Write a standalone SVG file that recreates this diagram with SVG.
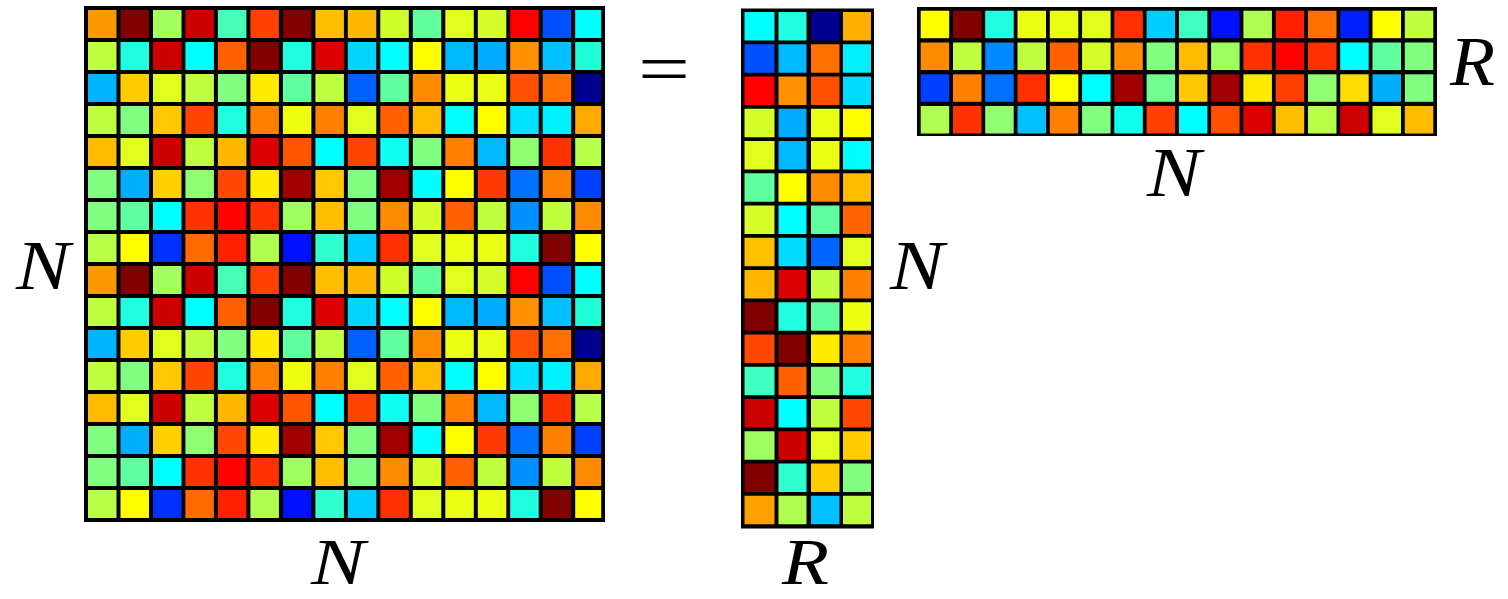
<svg xmlns="http://www.w3.org/2000/svg" xmlns:xlink="http://www.w3.org/1999/xlink" width="1508" height="599" viewBox="0 0 1508 599">
<style>
  .bg { fill: #000000; }
  .lbl { font-family: "Liberation Serif", "DejaVu Serif", "Times New Roman", serif; font-style: italic; font-size: 70px; fill: #000000; }
  .lbl2 { font-size: 66px; }
  .eq { font-family: "Liberation Serif", "DejaVu Serif", "Times New Roman", serif; font-size: 72px; fill: #000000; }
</style>
<rect x="0" y="0" width="1508" height="599" fill="#ffffff"/>
<defs>
  <g id="halfRows">
    <g transform="translate(0,10)">
      <rect x="88" width="28.5" height="28" fill="#FF9900"/><rect x="120.5" width="28.5" height="28" fill="#800000"/><rect x="153" width="28.5" height="28" fill="#A3FF5A"/><rect x="185.4" width="28.5" height="28" fill="#CC0000"/><rect x="217.9" width="28.5" height="28" fill="#48FFB8"/><rect x="250.4" width="28.5" height="28" fill="#FF4000"/><rect x="282.9" width="28.5" height="28" fill="#800000"/><rect x="315.4" width="28.5" height="28" fill="#FFBF00"/>
      <rect x="347.8" width="28.5" height="28" fill="#FFB800"/><rect x="380.3" width="28.5" height="28" fill="#D0FF2E"/><rect x="412.8" width="28.5" height="28" fill="#60FF9C"/><rect x="445.3" width="28.5" height="28" fill="#E0FF1E"/><rect x="477.8" width="28.5" height="28" fill="#D4FF2A"/><rect x="510.2" width="28.5" height="28" fill="#FF0000"/><rect x="542.7" width="28.5" height="28" fill="#0050FF"/><rect x="575.2" width="26" height="28" fill="#00FFFF"/>
    </g>
    <g transform="translate(0,42)">
      <rect x="88" width="28.5" height="28" fill="#BFFF40"/><rect x="120.5" width="28.5" height="28" fill="#20FFE0"/><rect x="153" width="28.5" height="28" fill="#CC0000"/><rect x="185.4" width="28.5" height="28" fill="#00FFFF"/><rect x="217.9" width="28.5" height="28" fill="#FF6000"/><rect x="250.4" width="28.5" height="28" fill="#800000"/><rect x="282.9" width="28.5" height="28" fill="#20FFE0"/><rect x="315.4" width="28.5" height="28" fill="#DD0000"/>
      <rect x="347.8" width="28.5" height="28" fill="#00D4FF"/><rect x="380.3" width="28.5" height="28" fill="#00FFFF"/><rect x="412.8" width="28.5" height="28" fill="#FFFF00"/><rect x="445.3" width="28.5" height="28" fill="#00B8FF"/><rect x="477.8" width="28.5" height="28" fill="#00AAFF"/><rect x="510.2" width="28.5" height="28" fill="#FF9000"/><rect x="542.7" width="28.5" height="28" fill="#00C0FF"/><rect x="575.2" width="26" height="28" fill="#20FFD8"/>
    </g>
    <g transform="translate(0,74)">
      <rect x="88" width="28.5" height="28" fill="#00B4FF"/><rect x="120.5" width="28.5" height="28" fill="#FFCC00"/><rect x="153" width="28.5" height="28" fill="#E0FF1F"/><rect x="185.4" width="28.5" height="28" fill="#C0FF40"/><rect x="217.9" width="28.5" height="28" fill="#80FF80"/><rect x="250.4" width="28.5" height="28" fill="#FFEA00"/><rect x="282.9" width="28.5" height="28" fill="#60FFA0"/><rect x="315.4" width="28.5" height="28" fill="#C0FF40"/>
      <rect x="347.8" width="28.5" height="28" fill="#0060FF"/><rect x="380.3" width="28.5" height="28" fill="#60FFA0"/><rect x="412.8" width="28.5" height="28" fill="#FF8C00"/><rect x="445.3" width="28.5" height="28" fill="#EAFF15"/><rect x="477.8" width="28.5" height="28" fill="#EAFF15"/><rect x="510.2" width="28.5" height="28" fill="#FF5000"/><rect x="542.7" width="28.5" height="28" fill="#FF7000"/><rect x="575.2" width="26" height="28" fill="#000090"/>
    </g>
    <g transform="translate(0,106)">
      <rect x="88" width="28.5" height="28" fill="#C0FF40"/><rect x="120.5" width="28.5" height="28" fill="#80FF80"/><rect x="153" width="28.5" height="28" fill="#FFC800"/><rect x="185.4" width="28.5" height="28" fill="#FF4400"/><rect x="217.9" width="28.5" height="28" fill="#20FFDF"/><rect x="250.4" width="28.5" height="28" fill="#FF8000"/><rect x="282.9" width="28.5" height="28" fill="#F0FF0F"/><rect x="315.4" width="28.5" height="28" fill="#FF8000"/>
      <rect x="347.8" width="28.5" height="28" fill="#E0FF20"/><rect x="380.3" width="28.5" height="28" fill="#FF6000"/><rect x="412.8" width="28.5" height="28" fill="#FFBB00"/><rect x="445.3" width="28.5" height="28" fill="#00FFFF"/><rect x="477.8" width="28.5" height="28" fill="#FFFF00"/><rect x="510.2" width="28.5" height="28" fill="#00E0FF"/><rect x="542.7" width="28.5" height="28" fill="#00F0FF"/><rect x="575.2" width="26" height="28" fill="#FFAA00"/>
    </g>
    <g transform="translate(0,138)">
      <rect x="88" width="28.5" height="28" fill="#FFBB00"/><rect x="120.5" width="28.5" height="28" fill="#E0FF20"/><rect x="153" width="28.5" height="28" fill="#CC0000"/><rect x="185.4" width="28.5" height="28" fill="#C0FF40"/><rect x="217.9" width="28.5" height="28" fill="#FFB800"/><rect x="250.4" width="28.5" height="28" fill="#DD0000"/><rect x="282.9" width="28.5" height="28" fill="#FF5500"/><rect x="315.4" width="28.5" height="28" fill="#00FFFF"/>
      <rect x="347.8" width="28.5" height="28" fill="#FF4400"/><rect x="380.3" width="28.5" height="28" fill="#10FFF0"/><rect x="412.8" width="28.5" height="28" fill="#80FF80"/><rect x="445.3" width="28.5" height="28" fill="#FF8000"/><rect x="477.8" width="28.5" height="28" fill="#00B8FF"/><rect x="510.2" width="28.5" height="28" fill="#90FF6F"/><rect x="542.7" width="28.5" height="28" fill="#FF3300"/><rect x="575.2" width="26" height="28" fill="#B8FF48"/>
    </g>
    <g transform="translate(0,170)">
      <rect x="88" width="28.5" height="28" fill="#80FF80"/><rect x="120.5" width="28.5" height="28" fill="#00B0FF"/><rect x="153" width="28.5" height="28" fill="#FFD000"/><rect x="185.4" width="28.5" height="28" fill="#90FF70"/><rect x="217.9" width="28.5" height="28" fill="#FF4800"/><rect x="250.4" width="28.5" height="28" fill="#FFEA00"/><rect x="282.9" width="28.5" height="28" fill="#A00000"/><rect x="315.4" width="28.5" height="28" fill="#FFC800"/>
      <rect x="347.8" width="28.5" height="28" fill="#80FF80"/><rect x="380.3" width="28.5" height="28" fill="#A00000"/><rect x="412.8" width="28.5" height="28" fill="#00FFFF"/><rect x="445.3" width="28.5" height="28" fill="#FFFF00"/><rect x="477.8" width="28.5" height="28" fill="#FF3800"/><rect x="510.2" width="28.5" height="28" fill="#0070FF"/><rect x="542.7" width="28.5" height="28" fill="#FF8000"/><rect x="575.2" width="26" height="28" fill="#0040FF"/>
    </g>
    <g transform="translate(0,202)">
      <rect x="88" width="28.5" height="28" fill="#80FF80"/><rect x="120.5" width="28.5" height="28" fill="#60FFA0"/><rect x="153" width="28.5" height="28" fill="#00FFFF"/><rect x="185.4" width="28.5" height="28" fill="#FF3300"/><rect x="217.9" width="28.5" height="28" fill="#FF0000"/><rect x="250.4" width="28.5" height="28" fill="#FF3300"/><rect x="282.9" width="28.5" height="28" fill="#A0FF60"/><rect x="315.4" width="28.5" height="28" fill="#FFBF00"/>
      <rect x="347.8" width="28.5" height="28" fill="#80FF80"/><rect x="380.3" width="28.5" height="28" fill="#FF8C00"/><rect x="412.8" width="28.5" height="28" fill="#D4FF2B"/><rect x="445.3" width="28.5" height="28" fill="#FF6000"/><rect x="477.8" width="28.5" height="28" fill="#C0FF40"/><rect x="510.2" width="28.5" height="28" fill="#0090FF"/><rect x="542.7" width="28.5" height="28" fill="#C0FF40"/><rect x="575.2" width="26" height="28" fill="#FF8C00"/>
    </g>
    <g transform="translate(0,234)">
      <rect x="88" width="28.5" height="28" fill="#B8FF48"/><rect x="120.5" width="28.5" height="28" fill="#FFFF00"/><rect x="153" width="28.5" height="28" fill="#0030FF"/><rect x="185.4" width="28.5" height="28" fill="#FF6A00"/><rect x="217.9" width="28.5" height="28" fill="#FF2000"/><rect x="250.4" width="28.5" height="28" fill="#B0FF50"/><rect x="282.9" width="28.5" height="28" fill="#0010FF"/><rect x="315.4" width="28.5" height="28" fill="#30FFD0"/>
      <rect x="347.8" width="28.5" height="28" fill="#00CCFF"/><rect x="380.3" width="28.5" height="28" fill="#FF3000"/><rect x="412.8" width="28.5" height="28" fill="#E0FF20"/><rect x="445.3" width="28.5" height="28" fill="#EAFF15"/><rect x="477.8" width="28.5" height="28" fill="#EAFF15"/><rect x="510.2" width="28.5" height="28" fill="#20FFE0"/><rect x="542.7" width="28.5" height="28" fill="#800000"/><rect x="575.2" width="26" height="28" fill="#FFFF00"/>
    </g>
  </g>
</defs>

<g id="matrix-NxN">
  <rect class="bg" x="84" y="6" width="521" height="516"/>
  <use href="#halfRows" xlink:href="#halfRows"/>
  <use href="#halfRows" xlink:href="#halfRows" y="256"/>
</g>

<g id="matrix-NxR">
  <rect class="bg" x="741" y="8.5" width="133" height="520"/>
  <g transform="translate(0,12)"><rect x="744.5" width="30" height="28.5" fill="#00FFFF"/><rect x="778.5" width="28" height="28.5" fill="#20FFE0"/><rect x="811" width="28.5" height="28.5" fill="#00008F"/><rect x="843" width="28" height="28.5" fill="#FFB000"/></g>
  <g transform="translate(0,44.25)"><rect x="744.5" width="30" height="28.5" fill="#0050FF"/><rect x="778.5" width="28" height="28.5" fill="#00B8FF"/><rect x="811" width="28.5" height="28.5" fill="#FF7000"/><rect x="843" width="28" height="28.5" fill="#00F0FF"/></g>
  <g transform="translate(0,76.5)"><rect x="744.5" width="30" height="28.5" fill="#FF0000"/><rect x="778.5" width="28" height="28.5" fill="#FF9000"/><rect x="811" width="28.5" height="28.5" fill="#FF5000"/><rect x="843" width="28" height="28.5" fill="#00DCFF"/></g>
  <g transform="translate(0,108.75)"><rect x="744.5" width="30" height="28.5" fill="#D4FF2B"/><rect x="778.5" width="28" height="28.5" fill="#00AAFF"/><rect x="811" width="28.5" height="28.5" fill="#EAFF15"/><rect x="843" width="28" height="28.5" fill="#FFFF00"/></g>
  <g transform="translate(0,141)"><rect x="744.5" width="30" height="28.5" fill="#E0FF20"/><rect x="778.5" width="28" height="28.5" fill="#00B8FF"/><rect x="811" width="28.5" height="28.5" fill="#EAFF15"/><rect x="843" width="28" height="28.5" fill="#00FFFF"/></g>
  <g transform="translate(0,173.25)"><rect x="744.5" width="30" height="28.5" fill="#60FFA0"/><rect x="778.5" width="28" height="28.5" fill="#FFFF00"/><rect x="811" width="28.5" height="28.5" fill="#FF8C00"/><rect x="843" width="28" height="28.5" fill="#FFBB00"/></g>
  <g transform="translate(0,205.5)"><rect x="744.5" width="30" height="28.5" fill="#D4FF2B"/><rect x="778.5" width="28" height="28.5" fill="#00FFFF"/><rect x="811" width="28.5" height="28.5" fill="#60FFA0"/><rect x="843" width="28" height="28.5" fill="#FF6400"/></g>
  <g transform="translate(0,237.75)"><rect x="744.5" width="30" height="28.5" fill="#FFC000"/><rect x="778.5" width="28" height="28.5" fill="#00DCFF"/><rect x="811" width="28.5" height="28.5" fill="#0064FF"/><rect x="843" width="28" height="28.5" fill="#E0FF20"/></g>
  <g transform="translate(0,270)"><rect x="744.5" width="30" height="28.5" fill="#FFB800"/><rect x="778.5" width="28" height="28.5" fill="#DD0000"/><rect x="811" width="28.5" height="28.5" fill="#C0FF40"/><rect x="843" width="28" height="28.5" fill="#FF8000"/></g>
  <g transform="translate(0,302.25)"><rect x="744.5" width="30" height="28.5" fill="#800000"/><rect x="778.5" width="28" height="28.5" fill="#20FFE0"/><rect x="811" width="28.5" height="28.5" fill="#60FFA0"/><rect x="843" width="28" height="28.5" fill="#F0FF0F"/></g>
  <g transform="translate(0,334.5)"><rect x="744.5" width="30" height="28.5" fill="#FF4800"/><rect x="778.5" width="28" height="28.5" fill="#800000"/><rect x="811" width="28.5" height="28.5" fill="#FFEA00"/><rect x="843" width="28" height="28.5" fill="#FF8000"/></g>
  <g transform="translate(0,366.75)"><rect x="744.5" width="30" height="28.5" fill="#40FFC0"/><rect x="778.5" width="28" height="28.5" fill="#FF6000"/><rect x="811" width="28.5" height="28.5" fill="#80FF80"/><rect x="843" width="28" height="28.5" fill="#20FFE0"/></g>
  <g transform="translate(0,399)"><rect x="744.5" width="30" height="28.5" fill="#CC0000"/><rect x="778.5" width="28" height="28.5" fill="#00FFFF"/><rect x="811" width="28.5" height="28.5" fill="#C0FF40"/><rect x="843" width="28" height="28.5" fill="#FF4800"/></g>
  <g transform="translate(0,431.25)"><rect x="744.5" width="30" height="28.5" fill="#A0FF60"/><rect x="778.5" width="28" height="28.5" fill="#CC0000"/><rect x="811" width="28.5" height="28.5" fill="#E0FF20"/><rect x="843" width="28" height="28.5" fill="#FFCC00"/></g>
  <g transform="translate(0,463.5)"><rect x="744.5" width="30" height="28.5" fill="#800000"/><rect x="778.5" width="28" height="28.5" fill="#30FFD0"/><rect x="811" width="28.5" height="28.5" fill="#FFCC00"/><rect x="843" width="28" height="28.5" fill="#80FF80"/></g>
  <g transform="translate(0,495.75)"><rect x="744.5" width="30" height="28.5" fill="#FFA000"/><rect x="778.5" width="28" height="28.5" fill="#B0FF50"/><rect x="811" width="28.5" height="28.5" fill="#00C0FF"/><rect x="843" width="28" height="28.5" fill="#C0FF40"/></g>
</g>

<g id="matrix-RxN">
  <rect class="bg" x="917" y="7" width="520" height="129"/>
  <g transform="translate(0,10.7)">
    <rect x="920.7" width="28.5" height="27.5" fill="#FFFF00"/><rect x="953" width="28.5" height="27.5" fill="#800000"/><rect x="985.2" width="28.5" height="27.5" fill="#20FFE0"/><rect x="1017.5" width="28.5" height="27.5" fill="#EAFF15"/><rect x="1049.8" width="28.5" height="27.5" fill="#EAFF15"/><rect x="1082.1" width="28.5" height="27.5" fill="#E0FF20"/><rect x="1114.3" width="28.5" height="27.5" fill="#FF3000"/><rect x="1146.6" width="28.5" height="27.5" fill="#00CCFF"/>
    <rect x="1178.9" width="28.5" height="27.5" fill="#40FFC0"/><rect x="1211.1" width="28.5" height="27.5" fill="#0010FF"/><rect x="1243.4" width="28.5" height="27.5" fill="#B0FF50"/><rect x="1275.7" width="28.5" height="27.5" fill="#FF2000"/><rect x="1308" width="28.5" height="27.5" fill="#FF7000"/><rect x="1340.2" width="28.5" height="27.5" fill="#0020FF"/><rect x="1372.5" width="28.5" height="27.5" fill="#FFFF00"/><rect x="1404.8" width="28.5" height="27.5" fill="#C0FF40"/>
  </g>
  <g transform="translate(0,42.5)">
    <rect x="920.7" width="28.5" height="27.5" fill="#FF8C00"/><rect x="953" width="28.5" height="27.5" fill="#C0FF40"/><rect x="985.2" width="28.5" height="27.5" fill="#0088FF"/><rect x="1017.5" width="28.5" height="27.5" fill="#C0FF40"/><rect x="1049.8" width="28.5" height="27.5" fill="#FF6000"/><rect x="1082.1" width="28.5" height="27.5" fill="#D4FF2B"/><rect x="1114.3" width="28.5" height="27.5" fill="#FF8C00"/><rect x="1146.6" width="28.5" height="27.5" fill="#80FF80"/>
    <rect x="1178.9" width="28.5" height="27.5" fill="#FFBB00"/><rect x="1211.1" width="28.5" height="27.5" fill="#A0FF60"/><rect x="1243.4" width="28.5" height="27.5" fill="#FF3000"/><rect x="1275.7" width="28.5" height="27.5" fill="#FF0000"/><rect x="1308" width="28.5" height="27.5" fill="#FF3000"/><rect x="1340.2" width="28.5" height="27.5" fill="#00FFFF"/><rect x="1372.5" width="28.5" height="27.5" fill="#60FFA0"/><rect x="1404.8" width="28.5" height="27.5" fill="#80FF80"/>
  </g>
  <g transform="translate(0,74.3)">
    <rect x="920.7" width="28.5" height="27.5" fill="#0040FF"/><rect x="953" width="28.5" height="27.5" fill="#FF8000"/><rect x="985.2" width="28.5" height="27.5" fill="#0070FF"/><rect x="1017.5" width="28.5" height="27.5" fill="#FF3000"/><rect x="1049.8" width="28.5" height="27.5" fill="#FFFF00"/><rect x="1082.1" width="28.5" height="27.5" fill="#00FFFF"/><rect x="1114.3" width="28.5" height="27.5" fill="#A00000"/><rect x="1146.6" width="28.5" height="27.5" fill="#70FF90"/>
    <rect x="1178.9" width="28.5" height="27.5" fill="#FFC800"/><rect x="1211.1" width="28.5" height="27.5" fill="#A00000"/><rect x="1243.4" width="28.5" height="27.5" fill="#FFEA00"/><rect x="1275.7" width="28.5" height="27.5" fill="#FF4000"/><rect x="1308" width="28.5" height="27.5" fill="#90FF70"/><rect x="1340.2" width="28.5" height="27.5" fill="#FFDD00"/><rect x="1372.5" width="28.5" height="27.5" fill="#00B0FF"/><rect x="1404.8" width="28.5" height="27.5" fill="#80FF80"/>
  </g>
  <g transform="translate(0,106)">
    <rect x="920.7" width="28.5" height="27.5" fill="#B0FF50"/><rect x="953" width="28.5" height="27.5" fill="#FF3300"/><rect x="985.2" width="28.5" height="27.5" fill="#90FF70"/><rect x="1017.5" width="28.5" height="27.5" fill="#00C0FF"/><rect x="1049.8" width="28.5" height="27.5" fill="#FF8000"/><rect x="1082.1" width="28.5" height="27.5" fill="#80FF80"/><rect x="1114.3" width="28.5" height="27.5" fill="#10FFEF"/><rect x="1146.6" width="28.5" height="27.5" fill="#FF4000"/>
    <rect x="1178.9" width="28.5" height="27.5" fill="#00FFFF"/><rect x="1211.1" width="28.5" height="27.5" fill="#FF5000"/><rect x="1243.4" width="28.5" height="27.5" fill="#DD0000"/><rect x="1275.7" width="28.5" height="27.5" fill="#FFBF00"/><rect x="1308" width="28.5" height="27.5" fill="#B8FF48"/><rect x="1340.2" width="28.5" height="27.5" fill="#CC0000"/><rect x="1372.5" width="28.5" height="27.5" fill="#E0FF20"/><rect x="1404.8" width="28.5" height="27.5" fill="#FFBB00"/>
  </g>
</g>

<g id="labels">
  <text class="lbl" x="16" y="289" textLength="54" lengthAdjust="spacingAndGlyphs">N</text>
  <text class="lbl lbl2" x="311" y="584" textLength="54" lengthAdjust="spacingAndGlyphs">N</text>
  <text class="eq" x="638" y="93" textLength="52" lengthAdjust="spacingAndGlyphs">=</text>
  <text class="lbl" x="890" y="289" textLength="54" lengthAdjust="spacingAndGlyphs">N</text>
  <text class="lbl lbl2" x="782" y="584" textLength="47" lengthAdjust="spacingAndGlyphs">R</text>
  <text class="lbl" x="1147" y="196" textLength="54" lengthAdjust="spacingAndGlyphs">N</text>
  <text class="lbl" x="1450" y="85" textLength="45" lengthAdjust="spacingAndGlyphs">R</text>
</g>
</svg>
